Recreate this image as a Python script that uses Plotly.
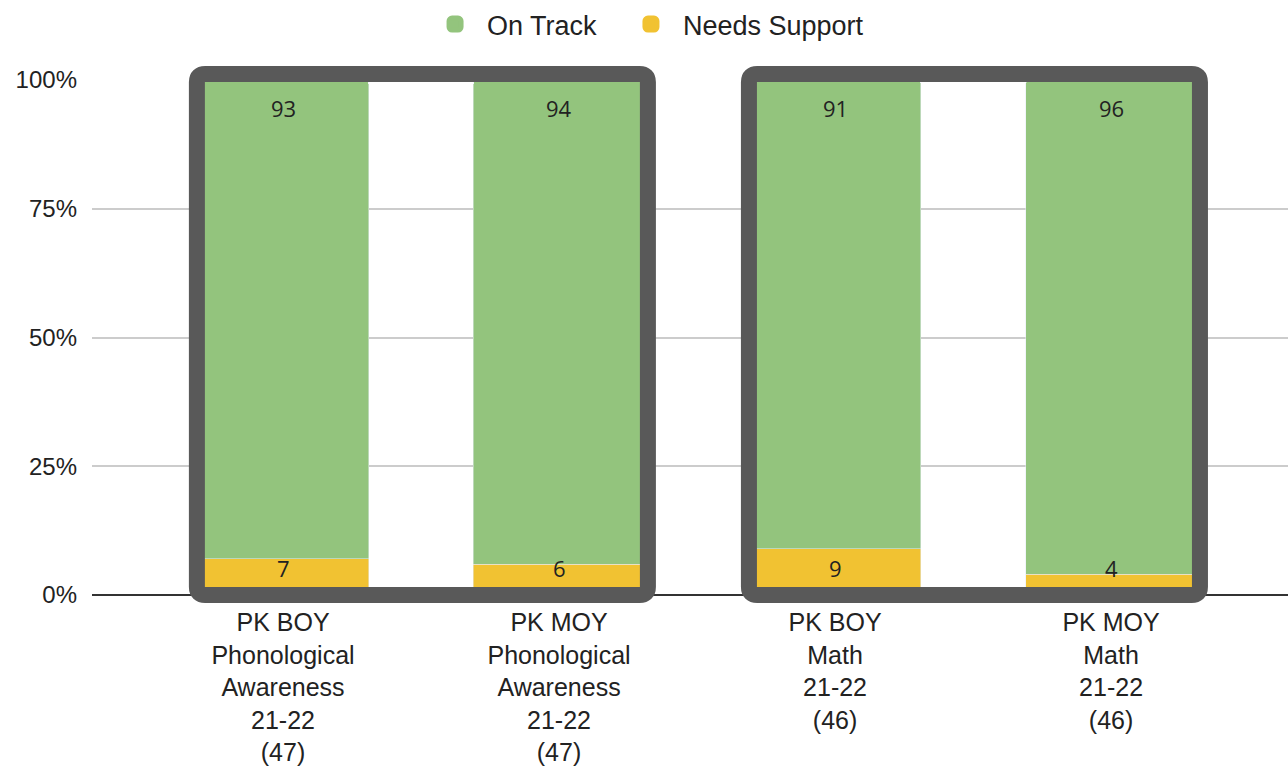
import plotly.graph_objects as go

categories = [
    "PK BOY<br>Phonological<br>Awareness<br>21-22<br>(47)",
    "PK MOY<br>Phonological<br>Awareness<br>21-22<br>(47)",
    "PK BOY<br>Math<br>21-22<br>(46)",
    "PK MOY<br>Math<br>21-22<br>(46)",
]
on_track = [93, 94, 91, 96]
needs_support = [7, 6, 9, 4]
groups = [(0, 1), (2, 3)]
y_ticks = [0, 25, 50, 75, 100]
y_tick_labels = ["0%", "25%", "50%", "75%", "100%"]

GREEN = "#93c47d"
YELLOW = "#f1c232"
BOX = "#595959"
TXT = "#222222"
LABEL_FONT = dict(family="Open Sans", size=22, color=TXT)

xpos = list(range(len(categories)))

fig = go.Figure()
fig.add_trace(go.Bar(
    x=xpos, y=needs_support, name="Needs Support", marker_color=YELLOW,
    width=0.62, showlegend=False, hoverinfo="skip",
))
fig.add_trace(go.Bar(
    x=xpos, y=on_track, name="On Track", marker_color=GREEN,
    width=0.62, showlegend=False, hoverinfo="skip",
))
# legend entries (one legend box per entry so spacing can match)
fig.add_trace(go.Bar(x=[None], y=[None], name="On Track", legend="legend",
                     showlegend=True,
                     marker=dict(color=GREEN, line=dict(color=GREEN, width=5))))
fig.add_trace(go.Bar(x=[None], y=[None], name="Needs Support", legend="legend2",
                     showlegend=True,
                     marker=dict(color=YELLOW, line=dict(color=YELLOW, width=5))))

# grouping boxes
pad_l, pad_r = 0.312, 0.322
rx, ry = 0.03, 0.0155
yb, yt = 0.0, 1.0117
for a, b in groups:
    x0, x1 = a - pad_l, b + pad_r
    path = (f"M {x0+rx},{yb} L {x1-rx},{yb} Q {x1},{yb} {x1},{yb+ry} "
            f"L {x1},{yt-ry} Q {x1},{yt} {x1-rx},{yt} L {x0+rx},{yt} "
            f"Q {x0},{yt} {x0},{yt-ry} L {x0},{yb+ry} Q {x0},{yb} {x0+rx},{yb} Z")
    fig.add_shape(type="path", path=path, xref="x", yref="paper",
                  line=dict(color=BOX, width=16), fillcolor="rgba(0,0,0,0)",
                  layer="above")

# data labels
for i, (ot, ns) in enumerate(zip(on_track, needs_support)):
    fig.add_annotation(x=i, y=ot + ns, xref="x", yref="y", text=str(ot),
                       showarrow=False, yanchor="middle", yshift=-28,
                       font=LABEL_FONT)
    fig.add_annotation(x=i, y=0, xref="x", yref="y", text=str(ns),
                       showarrow=False, yanchor="middle", yshift=27,
                       font=LABEL_FONT)

legend_common = dict(orientation="h", xanchor="left",
                     yref="container", y=1.0, yanchor="top",
                     font=dict(family="Liberation Sans, Arial", size=27, color=TXT),
                     itemwidth=54, bgcolor="rgba(0,0,0,0)", visible=True)

fig.update_layout(
    width=1288, height=768,
    margin=dict(l=92, r=0, t=80, b=173),
    showlegend=True,
    barmode="stack", bargap=0.4,
    barcornerradius=4,
    paper_bgcolor="white", plot_bgcolor="white",
    font=dict(family="Liberation Sans, Arial", size=23, color=TXT),
    legend=dict(xref="paper", x=0.2768, **legend_common),
    legend2=dict(xref="paper", x=0.4406, **legend_common),
    xaxis=dict(range=[-0.692, 3.641], tickvals=xpos, ticktext=categories,
               showgrid=False, zeroline=False, showline=False, automargin=False,
               tickfont=dict(size=25, color=TXT), ticks="", ticklabelstandoff=10),
    yaxis=dict(range=[0, 100], tickvals=y_ticks, ticktext=y_tick_labels,
               showgrid=True, gridcolor="#cccccc", gridwidth=2, automargin=False,
               zeroline=True, zerolinecolor="#333333", zerolinewidth=2,
               showline=False, ticks="", ticklabelstandoff=14,
               tickfont=dict(size=24, color=TXT)),
)

fig.write_html("out.html", config={"displayModeBar": False},
               post_script="document.body.style.margin='0';")
